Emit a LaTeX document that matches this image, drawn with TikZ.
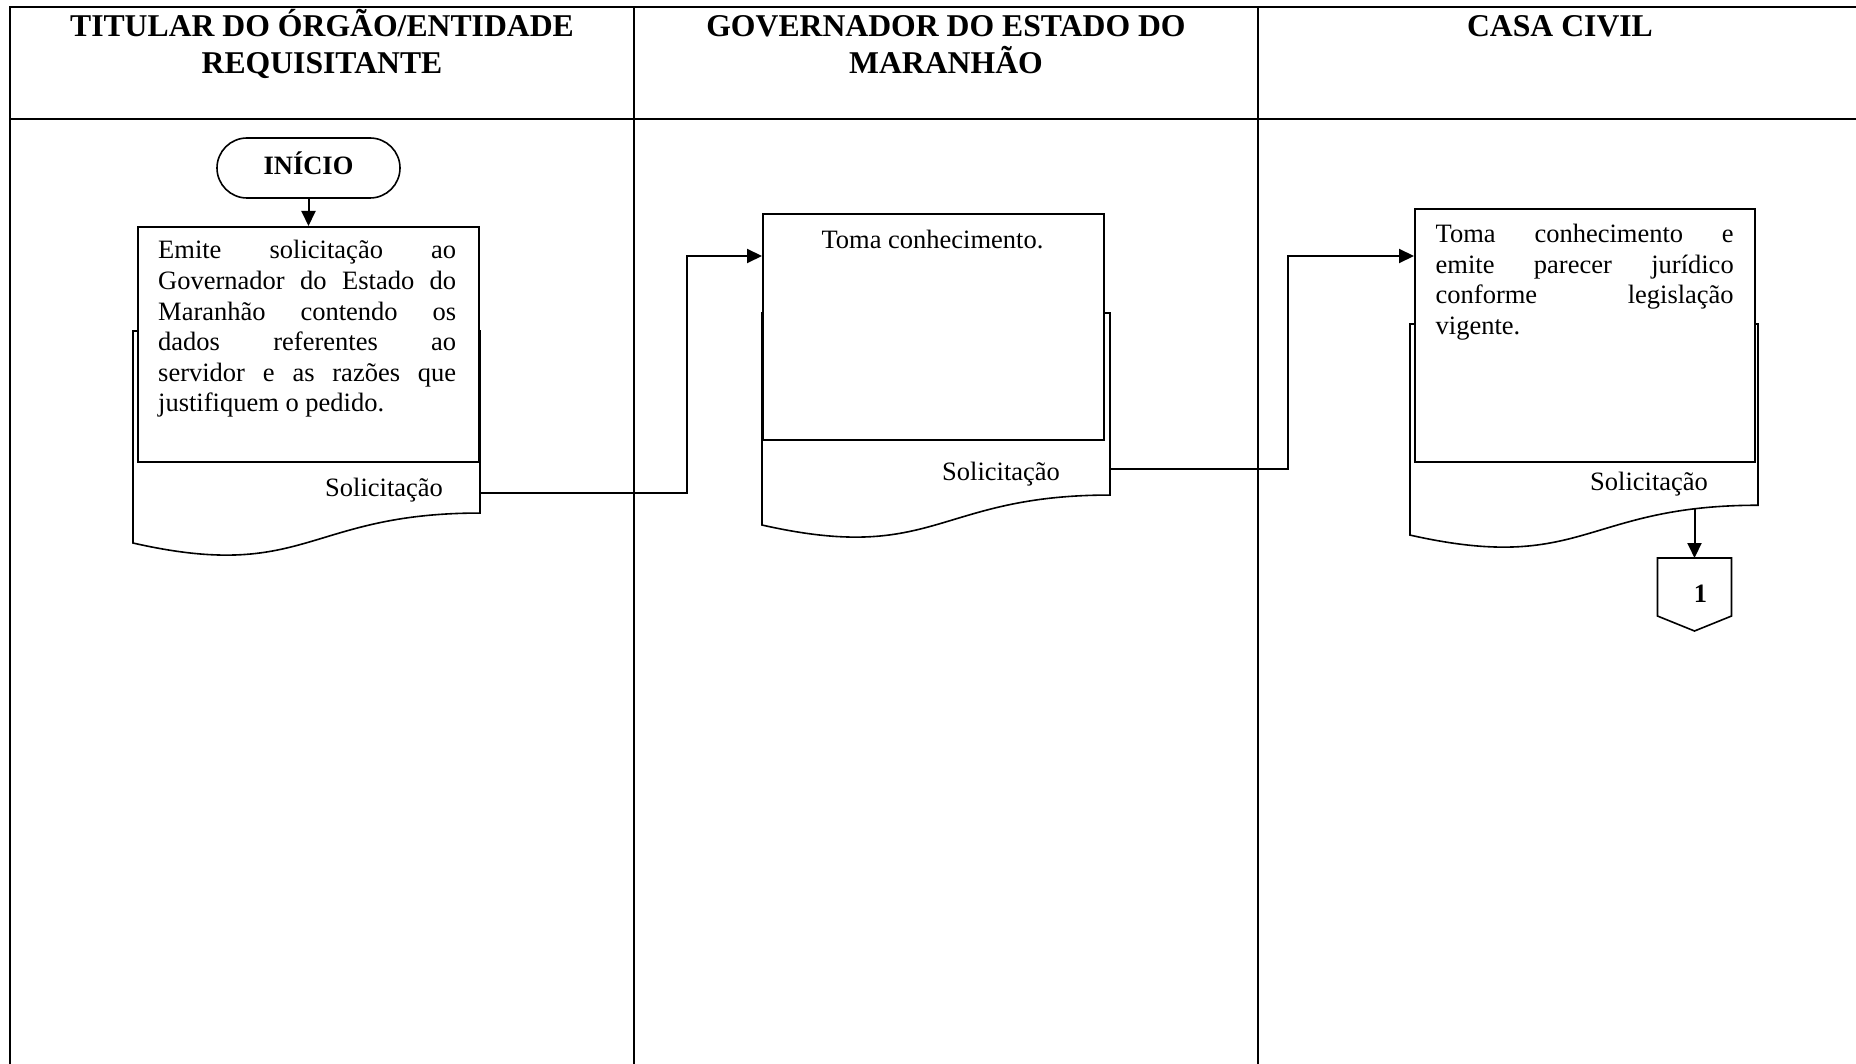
\documentclass[tikz,border=0pt]{standalone}
\usepackage{fontspec}
\setmainfont{Liberation Serif}[Ligatures=CommonOff]
\usetikzlibrary{arrows.meta,calc}

\tikzset{
  lane/.style={line width=2pt, line cap=rect},
  procbox/.style={draw, line width=2pt, fill=white, inner sep=0pt, anchor=north west},
  docbox/.style={inner sep=0pt, outer sep=0pt, anchor=north west},
  docline/.style={draw, line width=1.6pt, fill=white, line join=miter},
  flow/.style={line width=2pt, -{Triangle[length=15pt,width=14pt]}},
  body/.style={inner sep=0pt, font=\fontsize{26.5pt}{30.6pt}\selectfont},
  head/.style={inner sep=0pt, font=\fontsize{31.7pt}{36.5pt}\selectfont\bfseries},
  terminal/.style={draw, line width=1.6pt, rounded corners=30pt,
    minimum width=183pt, minimum height=60pt, inner sep=0pt,
    font=\fontsize{26.5pt}{30.6pt}\selectfont\bfseries,
    text height=18pt, text depth=4pt},
  offpage/.style={inner sep=0pt, outer sep=0pt, minimum width=74pt,
    minimum height=73pt, anchor=north},
}

% document symbol with a wavy lower edge, drawn inside the box of node #1
\newcommand\wavedoc[1]{%
  \path[docline] (#1.north west) -- (#1.north east)
    -- ($(#1.north east)!0.802!(#1.south east)$)
    .. controls ($(#1.north)!0.802!(#1.south)$) and ($(#1.north)!1.1075!(#1.south)$)
    .. ($(#1.north west)!0.934!(#1.south west)$) -- cycle;}

% one justified line of a text block
\newcommand\jline[1]{\hbox to\linewidth{#1}}

\begin{document}
\begin{tikzpicture}[x=1pt, y=-1pt]
  \useasboundingbox (0,0) rectangle (1856,1064);

  % swimlane frame
  \draw[lane] (10,1064) -- (10,7) -- (1856,7);
  \draw[lane] (10,119) -- (1856,119);
  \draw[lane] (634,7) -- (634,1064);
  \draw[lane] (1258,7) -- (1258,1064);

  % lane titles
  \node[head, anchor=base] (h1) at (322,37)
    {\parbox[t]{600pt}{\centering TITULAR DO ÓRGÃO/ENTIDADE\\REQUISITANTE}};
  \node[head, anchor=base] (h2) at (946,37)
    {\parbox[t]{600pt}{\centering GOVERNADOR DO ESTADO DO\\MARANHÃO}};
  \node[head, anchor=base] (h3) at (1560,37) {CASA CIVIL};

  % start
  \node[terminal] (start) at (308.5,168) {INÍCIO};

  % documents (behind the process boxes)
  \node[docbox, minimum width=347pt, minimum height=227pt] (doc1) at (133,331) {};
  \wavedoc{doc1}
  \node[docbox, minimum width=348pt, minimum height=227pt] (doc2) at (762,313) {};
  \wavedoc{doc2}
  \node[docbox, minimum width=348pt, minimum height=226pt] (doc3) at (1410,324) {};
  \wavedoc{doc3}

  % process boxes
  \node[procbox, minimum width=341pt, minimum height=235pt] (box1) at (137,226) {};
  \node[procbox, minimum width=341pt, minimum height=226pt] (box2) at (762,213) {};
  \node[procbox, minimum width=340pt, minimum height=253pt] (box3) at (1414,208) {};

  % box texts
  \node[body, anchor=base west] (t1) at (158,259) {\parbox[t]{298pt}{%
    \jline{Emite\hfill solicitação\hfill ao}
    \jline{Governador\hfill do\hfill Estado\hfill do}
    \jline{Maranhão\hfill contendo\hfill os}
    \jline{dados\hfill referentes\hfill ao}
    \jline{servidor\hfill e\hfill as\hfill razões\hfill que}
    \hbox{justifiquem o pedido.}}};
  \node[body, anchor=base] (t2) at (932.5,248.5) {Toma conhecimento.};
  \node[body, anchor=base west] (t3) at (1435.5,242.5) {\parbox[t]{298pt}{%
    \jline{Toma\hfill conhecimento\hfill e}
    \jline{emite\hfill parecer\hfill jurídico}
    \jline{conforme\hfill legislação}
    \hbox{vigente.}}};

  % document captions
  \node[body, anchor=base west] (s1) at (325,496.5) {Solicitação};
  \node[body, anchor=base west] (s2) at (942,480) {Solicitação};
  \node[body, anchor=base west] (s3) at (1590,490) {Solicitação};

  % off-page connector
  \node[offpage] (c1) at (1694.5,558) {};
  \draw[line width=1.6pt, line join=miter] (c1.north west) -- (c1.north east)
    -- ($(c1.north east)!0.795!(c1.south east)$) -- (c1.south)
    -- ($(c1.north west)!0.795!(c1.south west)$) -- cycle;
  \node[body, font=\fontsize{26.5pt}{30.6pt}\selectfont\bfseries, anchor=base]
    (c1num) at (1700.5,602) {1};

  % connector end points on the documents
  \coordinate (d1port) at (480,493);
  \coordinate (d2port) at (1110,469);
  \coordinate (d3out) at (1694.5,509);

  % flow
  \draw[flow] (start.south) -- (start.south |- box1.north);
  \draw[flow] (d1port) -- (687,493) -- (687,256) -- (box2.west |- 0,256);
  \draw[flow] (d2port) -- (1288,469) -- (1288,256) -- (box3.west |- 0,256);
  \draw[flow] (d3out) -- (c1.north);
\end{tikzpicture}
\end{document}
